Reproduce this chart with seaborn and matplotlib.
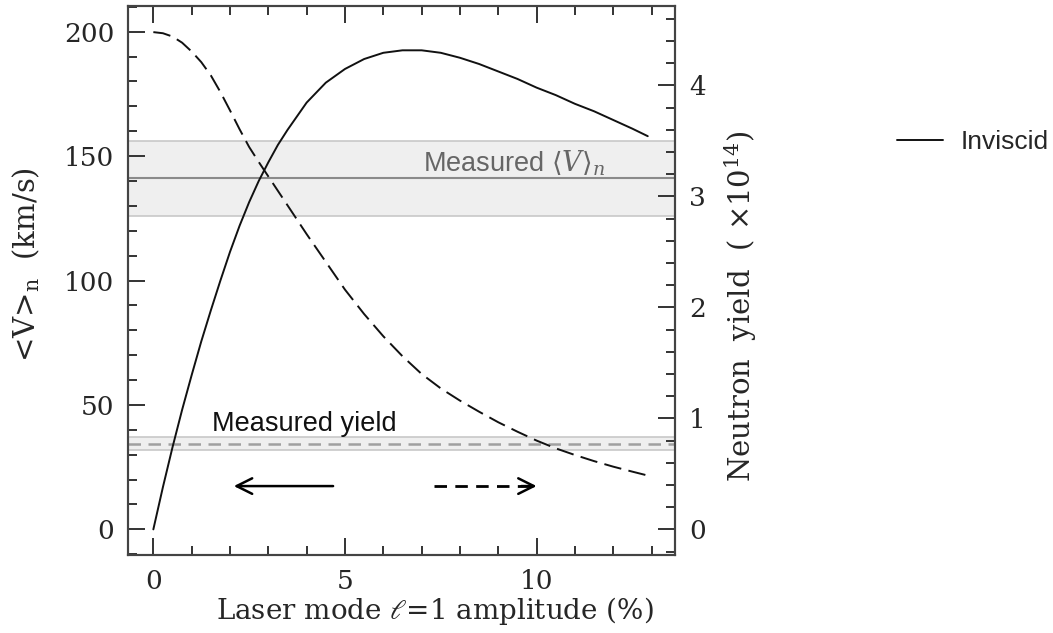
import matplotlib
matplotlib.use("Agg")
import matplotlib.pyplot as plt
import seaborn as sns
import pandas as pd
from matplotlib.ticker import MultipleLocator
from matplotlib.lines import Line2D

# l=1 mode amplitude (%)
amplitude = [0, 0.25, 0.5, 0.75, 1, 1.25, 1.5, 1.75, 2, 2.25, 2.5, 2.75, 3,
             3.25, 3.5, 3.75, 4, 4.5, 5, 5.5, 6, 6.5, 7, 7.5, 8, 8.5, 9,
             9.5, 10, 10.5, 11, 11.5, 12, 12.5, 12.9]
# flow velocity <V>_n (km/s), inviscid, solid curve
velocity = [0, 17, 33, 48, 62, 75.5, 88, 100, 111.5, 122, 131.5, 140, 147.5,
            154.5, 160.5, 166, 171.5, 179.5, 185, 189, 191.5, 192.5, 192.5,
            191.5, 189.5, 187, 184, 181, 177.5, 174.5, 171, 168, 164.5, 161,
            158]
# neutron yield (x1e14), dashed curve
neutron_yield = [4.48, 4.47, 4.44, 4.385, 4.305, 4.21, 4.09, 3.94, 3.775,
                 3.605, 3.445, 3.31, 3.18, 3.05, 2.92, 2.79, 2.66, 2.41, 2.16,
                 1.94, 1.74, 1.56, 1.40, 1.27, 1.16, 1.06, 0.965, 0.88, 0.80,
                 0.73, 0.67, 0.615, 0.565, 0.52, 0.485]

meas_v = 141
meas_v_band = (126, 156)
meas_yield = 0.765
meas_yield_band = (0.715, 0.83)

df = pd.DataFrame({"amp": amplitude, "vel": velocity, "yld": neutron_yield})

sns.set_style("ticks")
plt.rcParams['font.family'] = ['DejaVu Serif']
plt.rcParams['mathtext.fontset'] = 'dejavuserif'

scale = 44.6  # km/s per 1e14 neutrons on the shared frame
vlim = (-10.3, 210.3)

fig = plt.figure(figsize=(10.53, 6.33), dpi=100)
ax = fig.add_axes([0.1216, 0.1232, 0.5194, 0.8673])
ax2 = ax.twinx()

# measured bands
ax.axhspan(*meas_v_band, color='#efefef', lw=0, zorder=0)
for b in meas_v_band:
    ax.axhline(b, color='#c8c8c8', lw=1.2, zorder=1)
ax.axhline(meas_v, color='#8a8a8a', lw=1.5, zorder=1)

ax.axhspan(meas_yield_band[0] * scale, meas_yield_band[1] * scale,
           color='#efefef', lw=0, zorder=0)
for b in meas_yield_band:
    ax.axhline(b * scale, color='#c8c8c8', lw=1.2, zorder=1)
ax.axhline(meas_yield * scale, color='#a0a0a0', lw=1.8,
           linestyle=(0, (5, 3)), zorder=1)

sns.lineplot(data=df, x="amp", y="vel", ax=ax, color='#111111', lw=1.4,
             zorder=3)
sns.lineplot(data=df, x="amp", y="yld", ax=ax2, color='#111111', lw=1.4,
             linestyle=(0, (9, 3.8)))

ax.set_xlim(-0.66, 13.61)
ax.set_ylim(*vlim)
ax2.set_ylim(vlim[0] / scale, vlim[1] / scale)

ax.xaxis.set_major_locator(MultipleLocator(5))
ax.xaxis.set_minor_locator(MultipleLocator(1))
ax.yaxis.set_major_locator(MultipleLocator(50))
ax.yaxis.set_minor_locator(MultipleLocator(10))
ax2.yaxis.set_major_locator(MultipleLocator(1))
ax2.yaxis.set_minor_locator(MultipleLocator(0.2))

tk = dict(direction='in', color='#333333', labelsize=19, pad=10)
ax.tick_params(axis='x', which='both', top=True, bottom=True, **tk)
ax.tick_params(axis='y', which='both', left=True, right=False, **tk)
ax2.tick_params(axis='y', which='both', right=True, **tk)
for a in (ax, ax2):
    a.tick_params(which='major', length=12, width=1.4)
    a.tick_params(which='minor', length=6.5, width=1.4)
    for s in a.spines.values():
        s.set_color('#444444')
        s.set_linewidth(1.5)

ax.set_xlabel(r"Laser mode $\ell$=1 amplitude (%)", fontsize=20)
ax.set_ylabel(r"<V>$_{\rm n}$  (km/s)", fontsize=21)
ax2.set_ylabel(r"Neutron  yield  ( $\times$10$^{14}$)", fontsize=21)
ax.xaxis.set_label_coords(0.561, -0.073)
ax.yaxis.set_label_coords(-0.157, 0.53)
ax2.yaxis.set_label_coords(1.087, 0.453)

sans = ['Liberation Sans', 'DejaVu Sans']
ax.text(3.95, 42.5, "Measured yield", family=sans, fontsize=19.5,
        color='#111111', ha='center', va='center')
ax.text(9.4, 147, r"Measured $\langle V\rangle_n$", family=sans, fontsize=19.5,
        color='#666666', ha='center', va='center')

# direction arrows
ax.annotate('', xy=(2.1, 17.4), xytext=(4.69, 17.4),
            arrowprops=dict(arrowstyle='->', color='k', lw=1.8,
                            mutation_scale=28, shrinkA=0, shrinkB=0))
ax.plot([7.31, 9.9], [17.4, 17.4], color='k', lw=2, linestyle=(0, (4.5, 3)))
ax.annotate('', xy=(10.0, 17.4), xytext=(9.6, 17.4),
            arrowprops=dict(arrowstyle='->', color='k', lw=1.8,
                            mutation_scale=28, shrinkA=0, shrinkB=0))

handle = Line2D([], [], color='#111111', lw=1.4)
fig.legend(handles=[handle], labels=['Inviscid'], loc='center left',
           bbox_to_anchor=(0.852, 0.776), frameon=False, borderpad=0,
           borderaxespad=0, handlelength=1.75, handletextpad=0.65,
           prop={'family': sans, 'size': 19})

fig.savefig("out.png", dpi=100)
